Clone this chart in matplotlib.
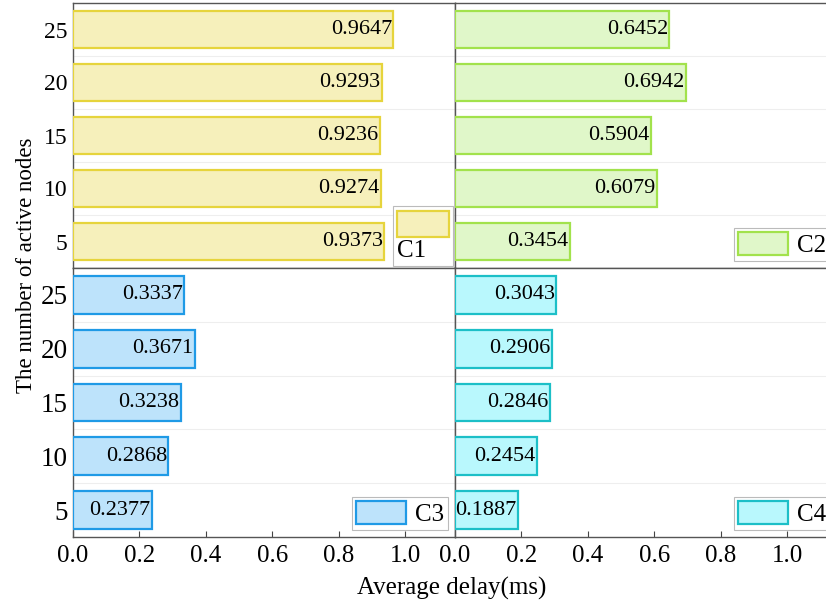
import numpy as np
import matplotlib
matplotlib.use('Agg')
import matplotlib.pyplot as plt
from matplotlib.patches import Rectangle
from matplotlib.offsetbox import AnchoredOffsetbox, DrawingArea, TextArea, VPacker

plt.rcParams['font.family'] = ['Liberation Serif', 'DejaVu Serif']

# data
nodes = [5, 10, 15, 20, 25]
c1 = [0.9373, 0.9274, 0.9236, 0.9293, 0.9647]
c2 = [0.3454, 0.6079, 0.5904, 0.6942, 0.6452]
c3 = [0.2377, 0.2868, 0.3238, 0.3671, 0.3337]
c4 = [0.1887, 0.2454, 0.2846, 0.2906, 0.3043]
names = ['C1', 'C2', 'C3', 'C4']
fills = ['#f6f0bb', '#e0f7c9', '#bde3fb', '#b9f8fd']
edges = ['#e6d43c', '#a2e24c', '#1f9ae6', '#1cbfc7']

W, H = 826, 608
fig = plt.figure(figsize=(W / 100, H / 100), dpi=100)

def px_axes(x0, y0, x1, y1):
    return fig.add_axes([x0 / W, 1 - y1 / H, (x1 - x0) / W, (y1 - y0) / H])

axes = [px_axes(73, 3, 455, 268), px_axes(455, 3, 837, 268),
        px_axes(73, 268, 455, 537), px_axes(455, 268, 837, 537)]

for i, (ax, vals) in enumerate(zip(axes, [c1, c2, c3, c4])):
    top = i < 2
    ax.barh(nodes, vals, height=3.5, color=fills[i], edgecolor=edges[i],
            linewidth=1.6, label=names[i], zorder=3)
    for y, v in zip(nodes, vals):
        ax.text(v - 0.004, y, '%.4f' % v, ha='right', va='center',
                fontsize=16, zorder=4)
    ax.set_xlim(0, 1.15)
    ax.set_ylim(2.5, 27.5)
    ax.set_yticks(nodes)
    ax.set_xticks([0.0, 0.2, 0.4, 0.6, 0.8, 1.0])
    ax.set_yticks([7.5, 12.5, 17.5, 22.5], minor=True)
    ax.grid(True, axis='y', which='minor', color='#eeeeee', linewidth=0.8, zorder=0)
    ax.tick_params(which='minor', left=False)
    ax.tick_params(axis='both', which='major', direction='in', length=4,
                   color='#444444')
    ax.tick_params(axis='y', labelsize=17 if top else 19.5, pad=4)
    ax.tick_params(axis='x', labelsize=18, pad=6)
    for sp in ax.spines.values():
        sp.set_color('#555555')
        sp.set_linewidth(1.0)
    if i % 2 == 1:
        ax.set_yticklabels([])
    if top:
        ax.tick_params(axis='x', bottom=False, labelbottom=False)
    else:
        ax.set_xticklabels(['0.0', '0.2', '0.4', '0.6', '0.8', '1.0'])

# C1 legend: handle on top, label below
da = DrawingArea(37, 19, 0, 0)
da.add_artist(Rectangle((0, 0), 37, 19, facecolor=fills[0], edgecolor=edges[0], linewidth=1.6))
ta = TextArea('C1', textprops=dict(fontsize=18))
pack = VPacker(children=[da, ta], align='left', pad=0, sep=2)
box = AnchoredOffsetbox(loc='lower right', child=pack, pad=0.3, borderpad=0.15,
                        frameon=True)
box.patch.set_edgecolor('#bbbbbb')
box.patch.set_linewidth(0.8)
axes[0].add_artist(box)

for ax in axes[1:]:
    leg = ax.legend(loc='lower right', fontsize=18, handlelength=2.0,
                    handleheight=1.05, handletextpad=0.35, borderpad=0.15,
                    borderaxespad=0.3, fancybox=False, framealpha=1,
                    edgecolor='#bbbbbb')
    leg.get_frame().set_linewidth(0.8)

fig.text(452 / W, 1 - 588 / H, 'Average delay(ms)', ha='center', va='center', fontsize=18)
fig.text(27 / W, 1 - 265 / H, 'The number of active nodes', ha='center', va='center',
         rotation=90, fontsize=16.5)

fig.savefig('out.png', dpi=100)
